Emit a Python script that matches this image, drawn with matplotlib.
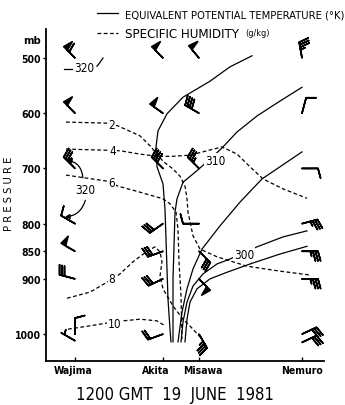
import numpy as np
import matplotlib
matplotlib.use('Agg')
import matplotlib.pyplot as plt
from matplotlib.lines import Line2D
from matplotlib.transforms import ScaledTranslation

plt.rcParams['font.family'] = ['DejaVu Sans']
plt.rcParams['font.stretch'] = 'condensed'

# stations along the section (distance units) and pressure levels
stations = ['Wajima', 'Akita', 'Misawa', 'Nemuro']
station_x = [0, 88, 124, 227]
p_ticks = [500, 600, 700, 800, 850, 900, 1000]

# equivalent potential temperature isolines (solid), x / pressure
te1_x = [177, 155, 135, 108, 92, 83, 81, 82, 88, 90, 91, 92, 93, 95, 96]
te1_p = [496, 516, 542, 571, 601, 632, 661, 697, 728, 774, 828, 882, 937, 991, 1014]
te2_x = [227, 205, 182, 162, 147, 135, 122, 108, 102, 100, 99, 98, 98, 98]   # 310
te2_p = [553, 578, 605, 634, 663, 683, 704, 725, 755, 779, 841, 900, 955, 1014]
te3_x = [227, 205, 187, 165, 145, 127, 118, 112, 107, 103]
te3_p = [670, 697, 719, 761, 804, 846, 882, 918, 960, 1014]
te4_x = [232, 208, 182, 168, 155, 142, 128, 118, 112, 108, 106]   # 300
te4_p = [813, 824, 842, 853, 864, 873, 891, 913, 942, 978, 1014]
te5_x = [232, 205, 175, 152, 135, 122, 115, 112, 110]
te5_p = [841, 855, 873, 888, 900, 918, 942, 973, 1014]

# specific humidity isolines (dashed), g/kg
q2_x = [-9, 32, 43, 65, 75, 82, 88, 98, 105, 110, 112, 113, 118, 125, 142, 172, 205, 235]
q2_p = [616, 618, 623, 641, 659, 674, 687, 701, 714, 732, 755, 779, 822, 846, 860, 877, 886, 893]
q4_x = [-9, 32, 45, 65, 82, 98, 115, 132, 147, 162, 175, 188, 208, 232]
q4_p = [665, 667, 668, 674, 678, 678, 676, 668, 661, 674, 697, 719, 737, 754]
q6_x = [-9, 32, 43, 65, 88, 95, 101, 103, 104, 106, 107]
q6_p = [712, 723, 732, 743, 755, 764, 779, 810, 869, 931, 1009]
q8_x = [-8, 15, 32, 45, 58, 72, 80, 85, 87, 85, 88, 98, 108, 118, 127]
q8_p = [935, 924, 906, 891, 869, 850, 842, 851, 869, 895, 918, 949, 973, 991, 1009]
q10_x = [-7, 15, 32, 48, 65, 82, 90]
q10_p = [991, 985, 980, 976, 973, 976, 985]

# winds: station x, pressure, direction (deg), speed (kt)
barb_x = [0]*8 + [88]*7 + [124]*7 + [227]*8
barb_p = [500, 600, 700, 800, 850, 900, 1000, 1012,
          500, 600, 700, 800, 850, 900, 1000,
          500, 600, 700, 800, 850, 900, 1000,
          500, 600, 700, 800, 850, 900, 1000, 1015]
barb_dir = [315, 315, 315, 300, 300, 285, 0, 300,
            315, 305, 315, 235, 250, 245, 250,
            320, 300, 315, 270, 135, 135, 150,
            350, 15, 90, 75, 90, 90, 65, 65]
barb_spd = [60, 50, 35, 10, 50, 30, 10, 5,
            50, 50, 40, 30, 30, 30, 20,
            50, 40, 35, 10, 30, 50, 35,
            35, 10, 10, 35, 35, 35, 30, 30]


def fx(px):
    return px / 345.0


def fy(py):
    return 1 - py / 406.0


fig = plt.figure(figsize=(3.45, 4.06), dpi=100)
ax = fig.add_axes([fx(46), fy(362), fx(324) - fx(46), fy(30) - fy(362)])

for xs, ps in [(te1_x, te1_p), (te2_x, te2_p), (te3_x, te3_p),
               (te4_x, te4_p), (te5_x, te5_p)]:
    ax.plot(xs, ps, color='black', lw=0.9)

for xs, ps in [(q2_x, q2_p), (q4_x, q4_p), (q6_x, q6_p),
               (q8_x, q8_p), (q10_x, q10_p)]:
    ax.plot(xs, ps, color='black', lw=0.9, ls=(0, (3, 2)))

lab = dict(fontsize=8.5, ha='center', va='center',
           bbox=dict(fc='white', ec='none', pad=0.6))
ax.text(37, 621, '2', **lab)
ax.text(38, 667, '4', **lab)
ax.text(37, 726, '6', **lab)
ax.text(37, 900, '8', **lab)
ax.text(40, 980, '10', **lab)
ax.text(140, 686, '310', **lab)
ax.text(169, 855, '300', **lab)

# 320 at Wajima
ax.text(9, 518, '320', fontsize=8.5, ha='center', va='center')
ax.plot([-11, -3], [520, 520], color='black', lw=0.9)
ax.plot([22, 25, 28], [515, 508, 500], color='black', lw=0.9)
ax.text(10, 739, '320', fontsize=8.5, ha='center', va='center')
ax.annotate('', xy=(-11, 684), xytext=(8, 722),
            arrowprops=dict(arrowstyle='-|>', color='black', lw=0.9,
                            connectionstyle='arc3,rad=0.45', mutation_scale=7))
ax.annotate('', xy=(-13, 788), xytext=(11, 753),
            arrowprops=dict(arrowstyle='-|>', color='black', lw=0.9,
                            connectionstyle='arc3,rad=-0.4', mutation_scale=7))

d = np.radians(barb_dir)
u = -np.array(barb_spd) * np.sin(d)
v = -np.array(barb_spd) * np.cos(d)
ax.barbs(barb_x, barb_p, u, v, length=4.8, pivot='tip', lw=1.2,
         barbcolor='black', flagcolor='black',
         sizes=dict(spacing=0.16, height=0.6, width=0.32))

ax.set_xlim(-29, 249)
ax.set_ylim(1048.7, 447.5)
ax.set_yticks(p_ticks)
ax.set_yticklabels([str(p) for p in p_ticks], fontsize=7.5, fontweight='bold')
ax.set_xticks(station_x)
ax.set_xticklabels(stations, fontsize=7.5, fontweight='bold')
ax.tick_params(axis='y', direction='out', length=2.5, width=1, pad=1)
ax.tick_params(axis='x', direction='in', length=3, width=1, pad=3)
# nudge the close station names apart like the original
for t, dx in zip(ax.get_xticklabels(), [-2, -7, 4, 0]):
    t.set_transform(t.get_transform() + ScaledTranslation(dx / 100, 0, fig.dpi_scale_trans))
for s in ['top', 'right']:
    ax.spines[s].set_visible(False)
for s in ['left', 'bottom']:
    ax.spines[s].set_linewidth(1.3)

fig.text(fx(32), fy(41), 'mb', fontsize=8, fontweight='bold', ha='center', va='center')
fig.text(fx(9), fy(194), 'P R E S S U R E', fontsize=8, rotation=90,
         ha='center', va='center')

# legend
fig.add_artist(Line2D([fx(97), fx(118)], [fy(14), fy(14)], color='black', lw=0.9))
fig.add_artist(Line2D([fx(97), fx(118)], [fy(34), fy(34)], color='black', lw=0.9,
                      ls=(0, (3, 2))))
fig.text(fx(125), fy(15), 'EQUIVALENT POTENTIAL TEMPERATURE (°K)', fontsize=8,
         ha='left', va='center')
fig.text(fx(125), fy(35), 'SPECIFIC HUMIDITY', fontsize=9.5, ha='left', va='center')
fig.text(fx(245), fy(33), '(g/kg)', fontsize=6.5, ha='left', va='center')

fig.text(fx(175), fy(395), '1200 GMT  19  JUNE  1981', fontsize=12,
         ha='center', va='center')

fig.savefig('out.png', dpi=100)
